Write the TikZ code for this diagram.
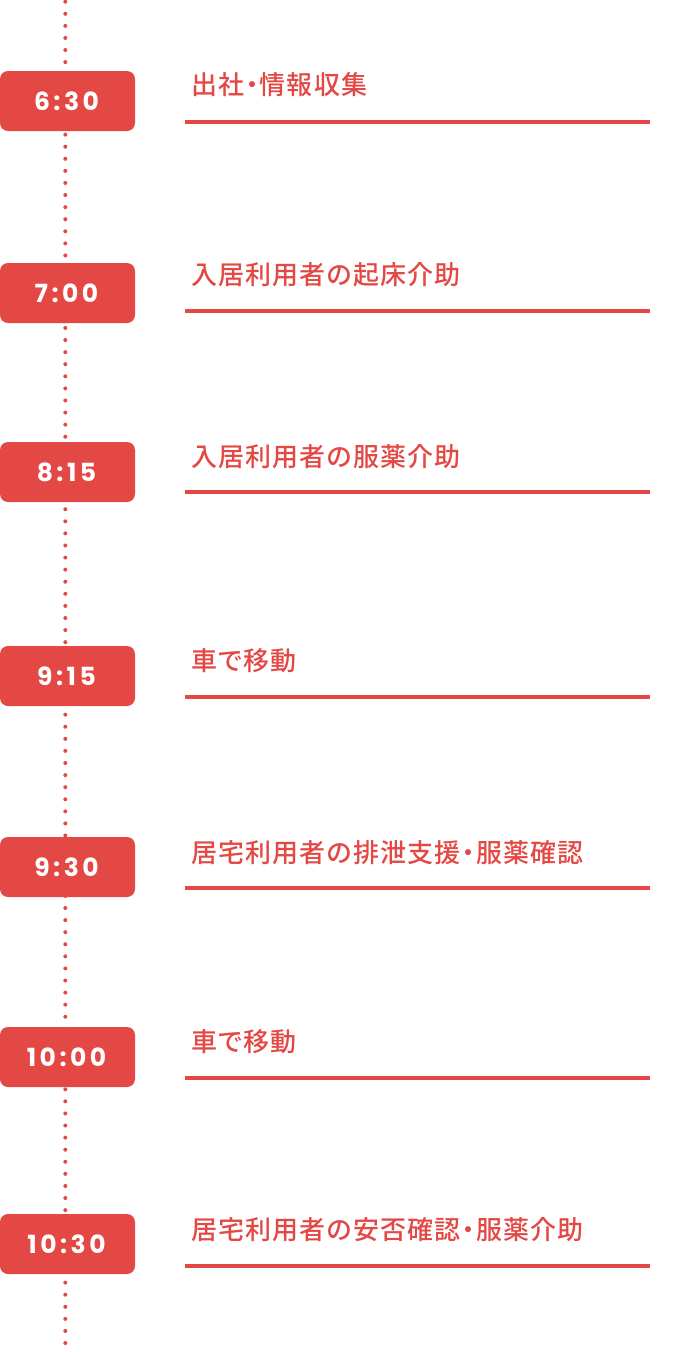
\documentclass[tikz,border=0pt]{standalone}
\usepackage{fontspec}
\newfontfamily\timefont{Poppins}[LetterSpace=14]
\newfontfamily\labfont{Noto Sans CJK JP Medium}[RawFeature=+palt, LetterSpace=4.5]
\definecolor{brandred}{HTML}{E44844}
\tikzset{
  timebox/.style={rectangle, rounded corners=8pt, fill=brandred, minimum width=135pt, minimum height=60pt, inner sep=0pt, text=white, font=\timefont\bfseries\fontsize{25}{25}\selectfont},
  labeltext/.style={anchor=west, inner sep=0pt, text=brandred, font=\labfont\fontsize{26}{26}\selectfont},
  rule/.style={draw=brandred, line width=4pt},
  dotline/.style={draw=brandred, line width=4pt, line cap=round, dash pattern=on 0pt off 12.084pt}
}
\newcommand{\tl}[1]{\hspace*{-2pt}\raisebox{-2.5pt}{#1}}
\begin{document}
\begin{tikzpicture}[x=1pt,y=-1pt]
\useasboundingbox (0,0) rectangle (672,1352);
\coordinate (dtop) at (65.3,1.7);
\coordinate (dbot) at (65.3,1345);
\draw[dotline] (dtop) -- (dbot);
% rows
\node[timebox] (t1) at (67.5,101) {\tl{6:30}};
\node[timebox] (t2) at (67.5,293) {\tl{7:00}};
\node[timebox] (t3) at (67.5,472) {\tl{8:15}};
\node[timebox] (t4) at (67.5,676) {\tl{9:15}};
\node[timebox] (t5) at (67.5,867) {\tl{9:30}};
\node[timebox] (t6) at (67.5,1057) {\tl{10:00}};
\node[timebox] (t7) at (67.5,1244) {\tl{10:30}};
\node[labeltext] (l1) at (191,85) {出社・情報収集};
\node[labeltext] (l2) at (191,275) {入居利用者の起床介助};
\node[labeltext] (l3) at (191,456.5) {入居利用者の服薬介助};
\node[labeltext] (l4) at (191,661) {車で移動};
\node[labeltext] (l5) at (191,852.5) {居宅利用者の排泄支援・服薬確認};
\node[labeltext] (l6) at (191,1042) {車で移動};
\node[labeltext] (l7) at (191,1230) {居宅利用者の安否確認・服薬介助};
\foreach \i/\y in {1/122,2/311,3/492,4/697,5/888,6/1078,7/1266}{
  \coordinate (ra\i) at (185,\y);
  \coordinate (rb\i) at (650,\y);
  \draw[rule] (ra\i) -- (rb\i);
}
\end{tikzpicture}
\end{document}
